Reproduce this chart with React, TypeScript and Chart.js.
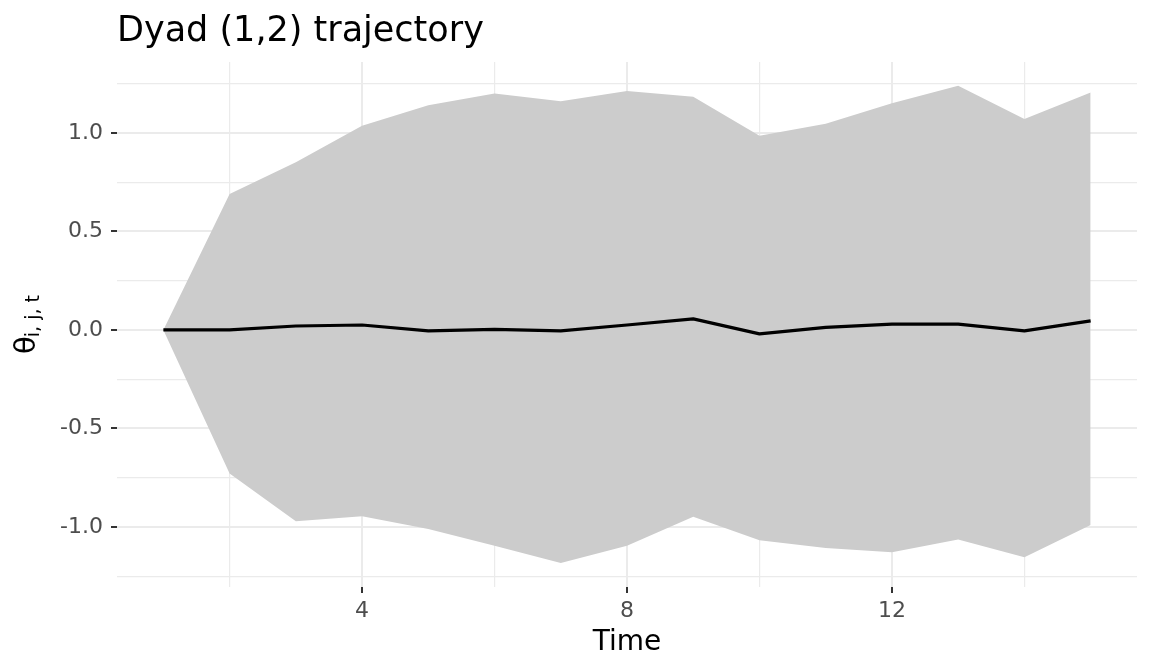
import React, { useEffect, useRef } from "react";
import { Chart, registerables } from "chart.js";

Chart.register(...registerables);

// ---- data ----
const time = [1, 2, 3, 4, 5, 6, 7, 8, 9, 10, 11, 12, 13, 14, 15];
const meanTheta = [0, 0, 0.02, 0.025, -0.005, 0.003, -0.005, 0.025, 0.056, -0.02, 0.013, 0.029, 0.029, -0.005, 0.046];
const upperBand = [0, 0.69, 0.851, 1.036, 1.14, 1.2, 1.161, 1.213, 1.184, 0.986, 1.046, 1.151, 1.239, 1.071, 1.205];
const lowerBand = [0, -0.729, -0.971, -0.946, -1.01, -1.095, -1.183, -1.095, -0.949, -1.068, -1.107, -1.129, -1.064, -1.154, -0.99];

const xGridValues = [2, 4, 6, 8, 10, 12, 14];
const xLabelValues = [4, 8, 12];
const yGridValues = [-1.25, -1, -0.75, -0.5, -0.25, 0, 0.25, 0.5, 0.75, 1, 1.25];
const yLabelValues = [-1, -0.5, 0, 0.5, 1];

const titleText = "Dyad (1,2) trajectory";
const xTitleText = "Time";
const yTitleMain = "θ";
const yTitleSub = "i, j, t";

const FONT = "'DejaVu Sans', sans-serif";

const isIn = (arr: number[], v: number) => arr.some((a) => Math.abs(a - v) < 1e-9);

const yTitlePlugin = {
  id: "yTitlePlugin",
  afterDraw(chart: any) {
    const { ctx, chartArea } = chart;
    const cy = (chartArea.top + chartArea.bottom) / 2;
    ctx.save();
    ctx.fillStyle = "#000000";
    ctx.textBaseline = "alphabetic";
    ctx.textAlign = "left";
    ctx.font = `29px ${FONT}`;
    const wMain = ctx.measureText(yTitleMain).width;
    ctx.font = `19px ${FONT}`;
    const wSub = ctx.measureText(yTitleSub).width;
    const total = wMain + wSub - 1;
    ctx.translate(35, cy + total / 2);
    ctx.rotate(-Math.PI / 2);
    ctx.font = `29px ${FONT}`;
    ctx.fillText(yTitleMain, 0, 0);
    ctx.font = `19px ${FONT}`;
    ctx.fillText(yTitleSub, wMain - 1, 4);
    ctx.restore();
  },
};

export default function App() {
  const canvasRef = useRef<HTMLCanvasElement | null>(null);

  useEffect(() => {
    if (!canvasRef.current) return;
    const chart = new Chart(canvasRef.current, {
      type: "line",
      data: {
        datasets: [
          {
            label: "mean",
            data: time.map((t, i) => ({ x: t, y: meanTheta[i] })),
            borderColor: "#000000",
            borderWidth: 3.2,
            pointRadius: 0,
            fill: false,
            tension: 0,
            borderJoinStyle: "round",
            order: 0,
          },
          {
            label: "lower",
            data: time.map((t, i) => ({ x: t, y: lowerBand[i] })),
            borderWidth: 0,
            borderColor: "rgba(0,0,0,0)",
            pointRadius: 0,
            fill: false,
            order: 1,
          },
          {
            label: "upper",
            data: time.map((t, i) => ({ x: t, y: upperBand[i] })),
            borderWidth: 0,
            borderColor: "rgba(0,0,0,0)",
            backgroundColor: "#CCCCCC",
            pointRadius: 0,
            fill: "-1",
            order: 2,
          },
        ],
      },
      options: {
        animation: false,
        responsive: false,
        devicePixelRatio: 1,
        layout: { padding: { left: 0, right: 15, top: 0, bottom: 0 } },
        plugins: {
          legend: { display: false },
          tooltip: { enabled: false },
          title: {
            display: true,
            text: titleText,
            align: "start",
            fullSize: false,
            color: "#000000",
            font: { family: FONT, size: 35, weight: "normal", lineHeight: 1.2 },
            padding: { top: 10.5, bottom: 9.5 },
          },
        },
        scales: {
          x: {
            type: "linear",
            min: 0.3,
            max: 15.7,
            afterBuildTicks: (scale: any) => {
              scale.ticks = xGridValues.map((v) => ({ value: v }));
            },
            afterFit: (scale: any) => {
              scale.height = 85;
            },
            border: { display: false },
            grid: {
              color: "#EBEBEB",
              lineWidth: (c: any) => (isIn(xLabelValues, c.tick.value) ? 2 : 1.2),
              drawTicks: true,
              tickLength: 6,
              tickWidth: 2,
              tickColor: (c: any) => (isIn(xLabelValues, c.tick.value) ? "#333333" : "rgba(0,0,0,0)"),
            },
            ticks: {
              autoSkip: false,
              maxRotation: 0,
              padding: 5,
              color: "#4D4D4D",
              font: { family: FONT, size: 22, lineHeight: 1.2 },
              callback: (v: any) => (isIn(xLabelValues, Number(v)) ? String(v) : ""),
            },
            title: {
              display: true,
              text: xTitleText,
              color: "#000000",
              font: { family: FONT, size: 28, lineHeight: 1.2 },
              padding: { top: 0, bottom: 12.8 },
            },
          },
          y: {
            type: "linear",
            min: -1.305,
            max: 1.36,
            afterBuildTicks: (scale: any) => {
              scale.ticks = yGridValues.map((v) => ({ value: v }));
            },
            afterFit: (scale: any) => {
              scale.width = 117;
            },
            border: { display: false },
            grid: {
              color: "#EBEBEB",
              lineWidth: (c: any) => (isIn(yLabelValues, c.tick.value) ? 2 : 1.2),
              drawTicks: true,
              tickLength: 6,
              tickWidth: 2,
              tickColor: (c: any) => (isIn(yLabelValues, c.tick.value) ? "#333333" : "rgba(0,0,0,0)"),
            },
            ticks: {
              autoSkip: false,
              padding: 8,
              color: "#4D4D4D",
              font: { family: FONT, size: 22, lineHeight: 1.2 },
              callback: (v: any) => (isIn(yLabelValues, Number(v)) ? Number(v).toFixed(1) : ""),
            },
          },
        },
      } as any,
      plugins: [yTitlePlugin],
    });
    return () => chart.destroy();
  }, []);

  return (
    <div style={{ position: "fixed", left: 0, top: 0, width: 1152, height: 672, background: "#FFFFFF" }}>
      <canvas ref={canvasRef} width={1152} height={672} style={{ display: "block" }} />
    </div>
  );
}
